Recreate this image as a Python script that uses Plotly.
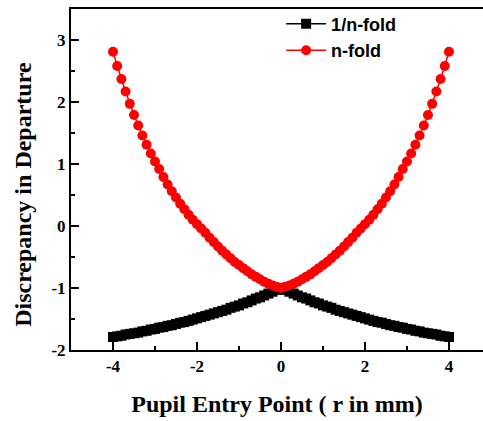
import plotly.graph_objects as go

# Pupil entry point (mm), half range 0..4 step 0.1, mirrored for -4..0
r_half = [0.0, 0.1, 0.2, 0.3, 0.4, 0.5, 0.6, 0.7, 0.8, 0.9,
          1.0, 1.1, 1.2, 1.3, 1.4, 1.5, 1.6, 1.7, 1.8, 1.9,
          2.0, 2.1, 2.2, 2.3, 2.4, 2.5, 2.6, 2.7, 2.8, 2.9,
          3.0, 3.1, 3.2, 3.3, 3.4, 3.5, 3.6, 3.7, 3.8, 3.9, 4.0]

# n-fold discrepancy for |r|
n_fold_half = [-1.00, -0.98, -0.96, -0.93, -0.90, -0.86, -0.82, -0.78, -0.73, -0.68,
               -0.63, -0.58, -0.52, -0.46, -0.40, -0.33, -0.26, -0.19, -0.11, -0.04,
               0.03, 0.10, 0.18, 0.27, 0.36, 0.46, 0.56, 0.67, 0.79, 0.92,
               1.04, 1.17, 1.31, 1.46, 1.62, 1.79, 1.97, 2.17, 2.37, 2.58, 2.81]

# 1/n-fold discrepancy for |r|
inv_n_fold_half = [-1.00, -1.03, -1.06, -1.09, -1.12, -1.15, -1.17, -1.20, -1.23, -1.25,
                   -1.28, -1.30, -1.32, -1.35, -1.37, -1.39, -1.41, -1.43, -1.45, -1.47,
                   -1.49, -1.51, -1.53, -1.55, -1.56, -1.58, -1.60, -1.61, -1.63, -1.64,
                   -1.66, -1.67, -1.69, -1.70, -1.72, -1.73, -1.74, -1.75, -1.77, -1.78, -1.79]

r = [-v for v in r_half[:0:-1]] + r_half
n_fold = n_fold_half[:0:-1] + n_fold_half
inv_n_fold = inv_n_fold_half[:0:-1] + inv_n_fold_half

x_ticks = [-4, -2, 0, 2, 4]
y_ticks = [-2, -1, 0, 1, 2, 3]

fig = go.Figure()
fig.add_trace(go.Scatter(
    x=r, y=inv_n_fold, mode="lines+markers", name="1/n-fold",
    line=dict(color="black", width=1.5),
    marker=dict(symbol="square", size=10, color="black"),
))
fig.add_trace(go.Scatter(
    x=r, y=n_fold, mode="lines+markers", name="n-fold",
    line=dict(color="#ff0000", width=1.5),
    marker=dict(symbol="circle", size=10, color="#ff0000"),
))

tick_font = dict(family="Liberation Serif", size=17, color="black", weight="bold")
title_font = dict(family="Liberation Serif", size=24, color="black")

fig.update_layout(
    width=483, height=421,
    margin=dict(l=71, r=0, t=9, b=71),
    paper_bgcolor="white", plot_bgcolor="white",
    showlegend=True,
    legend=dict(x=0.51, y=1.01, xanchor="left", yanchor="top",
                bgcolor="rgba(0,0,0,0)",
                font=dict(family="Liberation Sans", size=18, color="black", weight="bold"),
                tracegroupgap=0, itemwidth=40),
    annotations=[dict(
        text="<b>Discrepancy in Departure</b>", textangle=-90,
        xref="paper", yref="paper", x=-0.1165, y=0.455,
        xanchor="center", yanchor="middle", showarrow=False, font=title_font,
    )],
)
fig.update_xaxes(
    range=[-5, 4.81], showgrid=False, zeroline=False,
    showline=True, linecolor="black", linewidth=2, mirror=True,
    ticks="inside", ticklen=8, tickwidth=2, tickcolor="black",
    tickvals=x_ticks, ticktext=[str(v) for v in x_ticks],
    tickfont=tick_font,
    minor=dict(ticks="inside", ticklen=4, tickwidth=2, tickcolor="black", dtick=1, tick0=-5),
    title=dict(text="<b>Pupil Entry Point ( r in mm)</b>", font=title_font, standoff=20),
)
fig.update_yaxes(
    range=[-2, 3.5], showgrid=False, zeroline=False,
    showline=True, linecolor="black", linewidth=2, mirror=False,
    ticks="inside", ticklen=8, tickwidth=2, tickcolor="black",
    tickvals=y_ticks, ticktext=[str(v) for v in y_ticks],
    tickfont=tick_font,
    minor=dict(ticks="inside", ticklen=4, tickwidth=2, tickcolor="black", dtick=0.5, tick0=-2),
)

fig.write_html("out.html", config={"displayModeBar": False},
               post_script="document.body.style.margin='0';document.body.style.overflow='hidden';")
